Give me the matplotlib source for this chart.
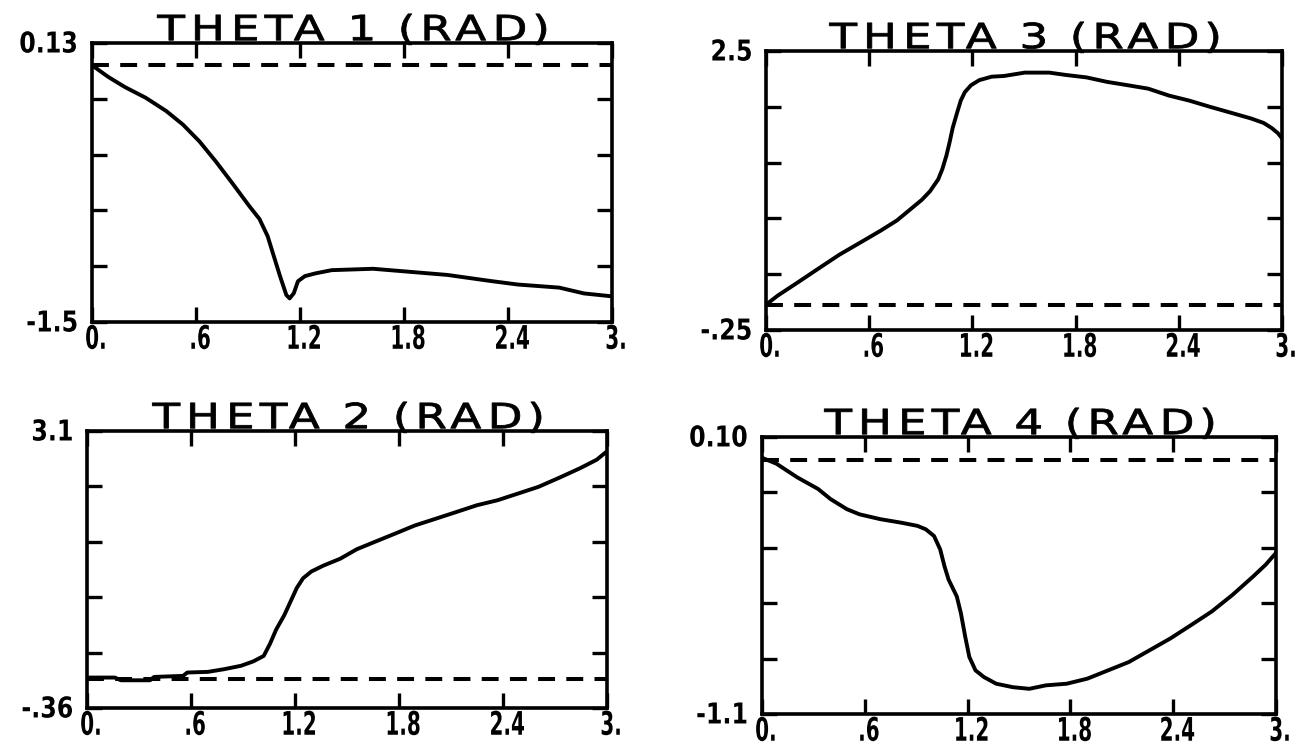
import numpy as np
import matplotlib
matplotlib.use("Agg")
import matplotlib.pyplot as plt
from matplotlib import patheffects
from matplotlib.path import Path
from matplotlib.transforms import Affine2D

# ---------------- data ----------------
x_ticks = [0.0, 0.6, 1.2, 1.8, 2.4, 3.0]
x_tick_labels = ["0.", ".6", "1.2", "1.8", "2.4", "3."]

t_theta1 = [0.0, 0.095, 0.191, 0.31, 0.429, 0.525, 0.62, 0.715, 0.811, 0.906, 0.966,
            1.013, 1.049, 1.085, 1.121, 1.14, 1.164, 1.188, 1.228, 1.288, 1.383,
            1.622, 1.789, 2.051, 2.289, 2.456, 2.695, 2.838, 3.0]
v_theta1 = [0.0, -0.069, -0.128, -0.19, -0.268, -0.347, -0.445, -0.563, -0.691, -0.821, -0.898,
            -0.998, -1.116, -1.233, -1.342, -1.362, -1.332, -1.262, -1.232, -1.216, -1.197,
            -1.189, -1.203, -1.225, -1.259, -1.281, -1.299, -1.333, -1.35]

t_theta3 = [0.0, 0.067, 0.187, 0.306, 0.426, 0.546, 0.666, 0.761, 0.833, 0.905, 0.953,
            1.001, 1.025, 1.049, 1.068, 1.085, 1.108, 1.132, 1.156, 1.192, 1.24, 1.312,
            1.384, 1.504, 1.647, 1.743, 1.863, 1.982, 2.102, 2.222, 2.342, 2.461, 2.581,
            2.70, 2.82, 2.893, 2.94, 2.976, 3.0]
v_theta3 = [0.0, 0.088, 0.222, 0.357, 0.492, 0.61, 0.729, 0.83, 0.931, 1.032, 1.117,
            1.235, 1.336, 1.471, 1.606, 1.741, 1.876, 2.011, 2.095, 2.163, 2.213, 2.247,
            2.254, 2.287, 2.287, 2.264, 2.24, 2.196, 2.163, 2.129, 2.061, 2.011, 1.95,
            1.893, 1.835, 1.791, 1.741, 1.69, 1.64]

t_theta2 = [0.0, 0.16, 0.196, 0.363, 0.387, 0.554, 0.578, 0.697, 0.792, 0.888, 0.959,
            1.019, 1.055, 1.091, 1.138, 1.174, 1.21, 1.246, 1.294, 1.365, 1.461, 1.556,
            1.652, 1.795, 1.89, 2.01, 2.129, 2.248, 2.368, 2.487, 2.606, 2.726, 2.845,
            2.94, 3.0]
v_theta2 = [0.02, 0.02, -0.014, -0.014, 0.028, 0.041, 0.083, 0.091, 0.125, 0.167, 0.222,
            0.29, 0.44, 0.62, 0.8, 0.97, 1.14, 1.26, 1.345, 1.42, 1.505, 1.623,
            1.708, 1.834, 1.919, 2.003, 2.087, 2.172, 2.235, 2.319, 2.404, 2.518, 2.636,
            2.741, 2.847]

t_theta4 = [0.0, 0.085, 0.206, 0.327, 0.40, 0.496, 0.569, 0.69, 0.81, 0.907, 0.956,
            1.004, 1.04, 1.065, 1.089, 1.137, 1.161, 1.186, 1.21, 1.246, 1.295, 1.367,
            1.464, 1.56, 1.657, 1.778, 1.899, 2.02, 2.141, 2.262, 2.383, 2.504, 2.625,
            2.746, 2.867, 2.94, 3.0]
v_theta4 = [0.01, -0.016, -0.075, -0.125, -0.169, -0.213, -0.235, -0.256, -0.271, -0.285, -0.30,
            -0.329, -0.387, -0.46, -0.518, -0.591, -0.664, -0.765, -0.853, -0.911, -0.94, -0.969,
            -0.984, -0.991, -0.976, -0.969, -0.947, -0.911, -0.875, -0.824, -0.773, -0.715, -0.656,
            -0.584, -0.504, -0.453, -0.402]

reference_level = 0.0

panels = [
    # title, t, v, ylim, end labels, axes rect (fig fraction)
    ("THETA 1 (RAD)", t_theta1, v_theta1, (-1.5, 0.13), ("-1.5", "0.13"),
     [0.0705, 0.5695, 0.3985, 0.373]),
    ("THETA 3 (RAD)", t_theta3, v_theta3, (-0.25, 2.5), ("-.25", "2.5"),
     [0.587, 0.5588, 0.3954, 0.373]),
    ("THETA 2 (RAD)", t_theta2, v_theta2, (-0.36, 3.1), ("-.36", "3.1"),
     [0.0667, 0.0535, 0.3985, 0.3703]),
    ("THETA 4 (RAD)", t_theta4, v_theta4, (-1.1, 0.10), ("-1.1", "0.10"),
     [0.5839, 0.0455, 0.3939, 0.3703]),
]


class Stretch(patheffects.AbstractPathEffect):
    """Draw text glyphs scaled about their horizontal centre and baseline."""

    def __init__(self, sx=1.0, sy=1.0, dx=0.0):
        super().__init__()
        self.sx, self.sy, self.dx = sx, sy, dx

    def draw_path(self, renderer, gc, tpath, affine, rgbFace=None):
        v = tpath.vertices
        cx = (v[:, 0].min() + v[:, 0].max()) / 2.0 if len(v) else 0.0
        pre = Affine2D().translate(-cx, 0).scale(self.sx, self.sy).translate(cx, 0)
        post = Affine2D().translate(renderer.points_to_pixels(self.dx), 0)
        renderer.draw_path(gc, tpath, pre + affine + post, rgbFace)


class PlotterLettering(patheffects.AbstractPathEffect):
    """Spread glyphs apart (letter spacing) and widen each glyph, like pen-plotter text."""

    def __init__(self, spread=1.5, widen=1.3, stroke=0.5):
        super().__init__()
        self.spread, self.widen, self.stroke = spread, widen, stroke

    def draw_path(self, renderer, gc, tpath, affine, rgbFace=None):
        verts = np.array(tpath.vertices, dtype=float)
        codes = np.array(tpath.codes)
        starts = list(np.where(codes == Path.MOVETO)[0]) + [len(codes)]
        contours = [(starts[i], starts[i + 1]) for i in range(len(starts) - 1)]
        boxes = []
        for a, b in contours:
            sel = codes[a:b] != Path.CLOSEPOLY
            pts = verts[a:b][sel]
            boxes.append((pts[:, 0].min(), pts[:, 0].max(), pts[:, 1].min(), pts[:, 1].max()))
        n = len(contours)
        owner = list(range(n))
        for i in range(n):
            for j in range(n):
                if i == j:
                    continue
                bi, bj = boxes[i], boxes[j]
                if (bj[0] <= bi[0] and bi[1] <= bj[1] and bj[2] <= bi[2] and bi[3] <= bj[3]
                        and (bj[1] - bj[0]) > (bi[1] - bi[0])):
                    owner[i] = j
        groups = {}
        for i, o in enumerate(owner):
            groups.setdefault(o, []).append(i)
        allx = np.concatenate([[b[0], b[1]] for b in boxes])
        c0 = (allx.min() + allx.max()) / 2.0
        out = verts.copy()
        for o, members in groups.items():
            gx0, gx1 = boxes[o][0], boxes[o][1]
            gc_x = (gx0 + gx1) / 2.0
            new_c = c0 + self.spread * (gc_x - c0)
            for i in members:
                a, b = contours[i]
                out[a:b, 0] = new_c + self.widen * (verts[a:b, 0] - gc_x)
        newpath = Path(out, codes)
        gc0 = renderer.new_gc()
        gc0.copy_properties(gc)
        if self.stroke > 0 and rgbFace is not None:
            gc0.set_linewidth(self.stroke)
            gc0.set_foreground(rgbFace)
            gc0.set_joinstyle("round")
        renderer.draw_path(gc0, newpath, affine, rgbFace)
        gc0.restore()


fig = plt.figure(figsize=(13.05, 7.48), dpi=100)

for title, t, v, ylim, ylabels, rect in panels:
    ax = fig.add_axes(rect)
    ax.plot(t, v, color="black", lw=2.8, solid_joinstyle="round", solid_capstyle="round")
    ax.plot([x_ticks[0], x_ticks[-1]], [reference_level, reference_level], color="black",
            lw=2.9, dashes=(4.2, 2.8))
    ax.set_xlim(x_ticks[0], x_ticks[-1])
    ax.set_ylim(*ylim)
    for s in ax.spines.values():
        s.set_linewidth(2.6)
    ax.set_xticks(x_ticks)
    ax.set_xticklabels(x_tick_labels)
    ax.set_yticks(np.linspace(ylim[0], ylim[1], 6))
    ax.set_yticklabels([ylabels[0], "", "", "", "", ylabels[1]])
    ax.tick_params(direction="in", length=11, width=2.4, top=True, right=True)
    ax.tick_params(axis="x", pad=5.6, labelsize=18)
    ax.tick_params(axis="y", pad=9, labelsize=18)
    for lab in ax.get_xticklabels():
        lab.set_family("DejaVu Sans")
        lab.set_fontweight("bold")
        lab.set_path_effects([Stretch(0.8, 1.3, dx=3.0)])
    for lab in ax.get_yticklabels():
        lab.set_family("DejaVu Sans")
        lab.set_fontweight("bold")
        lab.set_path_effects([Stretch(0.95, 1.15)])
    ax.set_title(title, fontsize=25, family="DejaVu Sans", pad=2,
                 path_effects=[PlotterLettering(spread=1.55, widen=1.3, stroke=0.6)])

fig.savefig("out.png", dpi=100)
